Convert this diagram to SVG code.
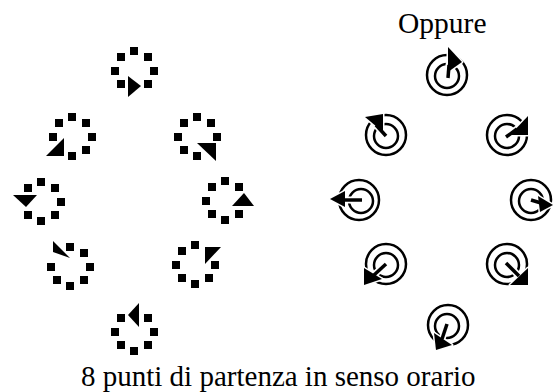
<svg xmlns="http://www.w3.org/2000/svg" xmlns:xlink="http://www.w3.org/1999/xlink" width="553" height="392" viewBox="0 0 553 392">
<style>
  text { font-family: "Liberation Serif", "Times New Roman", serif; fill: #000; }
  .sq { fill: #000; }
  .tri { fill: #000; }
  .ro, .ri { fill: none; stroke: #000; stroke-width: 2.5; }
  .halo { fill: none; stroke: #fff; stroke-width: 7; stroke-linecap: round; }
  .stem { fill: none; stroke: #000; stroke-width: 3.5; stroke-linecap: butt; }
  .head { fill: #000; stroke: #fff; stroke-width: 3; paint-order: stroke; stroke-linejoin: round; }
</style>
<defs>
  <rect id="sq" class="sq" width="8" height="8"/>
</defs>
<rect width="553" height="392" fill="#fff"/>

<g id="d1" transform="translate(134,71)">
  <use xlink:href="#sq" x="-4" y="-24"/><use xlink:href="#sq" x="10" y="-18"/><use xlink:href="#sq" x="16" y="-4"/><use xlink:href="#sq" x="10" y="9"/>
  <use xlink:href="#sq" x="-17" y="9"/><use xlink:href="#sq" x="-23" y="-4"/><use xlink:href="#sq" x="-17" y="-18"/>
  <polygon class="tri" points="-6,5 7,15 -6,26"/>
</g>
<g id="d2" transform="translate(72,137)">
  <use xlink:href="#sq" x="-4" y="-24"/><use xlink:href="#sq" x="10" y="-18"/><use xlink:href="#sq" x="16" y="-4"/><use xlink:href="#sq" x="10" y="9"/>
  <use xlink:href="#sq" x="-4" y="15"/><use xlink:href="#sq" x="-23" y="-4"/><use xlink:href="#sq" x="-17" y="-18"/>
  <polygon class="tri" points="-8,1 -8,19 -26,19"/>
</g>
<g id="d3" transform="translate(197,137)">
  <use xlink:href="#sq" x="-4" y="-24"/><use xlink:href="#sq" x="10" y="-18"/><use xlink:href="#sq" x="16" y="-4"/>
  <use xlink:href="#sq" x="-4" y="15"/><use xlink:href="#sq" x="-17" y="9"/><use xlink:href="#sq" x="-23" y="-4"/><use xlink:href="#sq" x="-17" y="-18"/>
  <polygon class="tri" points="0,6 19,6 19,24"/>
</g>
<g id="d4" transform="translate(41,202)">
  <use xlink:href="#sq" x="-4" y="-24"/><use xlink:href="#sq" x="10" y="-18"/><use xlink:href="#sq" x="16" y="-4"/><use xlink:href="#sq" x="10" y="9"/>
  <use xlink:href="#sq" x="-4" y="15"/><use xlink:href="#sq" x="-17" y="9"/><use xlink:href="#sq" x="-17" y="-18"/>
  <polygon class="tri" points="-28,-7 -4,-7 -15,5"/>
</g>
<g id="d5" transform="translate(225,201)">
  <use xlink:href="#sq" x="-4" y="-24"/><use xlink:href="#sq" x="10" y="-18"/><use xlink:href="#sq" x="10" y="9"/>
  <use xlink:href="#sq" x="-4" y="15"/><use xlink:href="#sq" x="-17" y="9"/><use xlink:href="#sq" x="-23" y="-4"/><use xlink:href="#sq" x="-17" y="-18"/>
  <polygon class="tri" points="7,5 29,5 19,-8"/>
</g>
<g id="d6" transform="translate(70,267)">
  <use xlink:href="#sq" x="-4" y="-24"/><use xlink:href="#sq" x="10" y="-18"/><use xlink:href="#sq" x="16" y="-4"/><use xlink:href="#sq" x="10" y="9"/>
  <use xlink:href="#sq" x="-4" y="15"/><use xlink:href="#sq" x="-17" y="9"/><use xlink:href="#sq" x="-23" y="-4"/>
  <polygon class="tri" points="-17,-26 -17,-15 0,-9"/>
</g>
<g id="d7" transform="translate(195,265)">
  <use xlink:href="#sq" x="-4" y="-24"/><use xlink:href="#sq" x="16" y="-4"/><use xlink:href="#sq" x="10" y="9"/>
  <use xlink:href="#sq" x="-4" y="15"/><use xlink:href="#sq" x="-17" y="9"/><use xlink:href="#sq" x="-23" y="-4"/><use xlink:href="#sq" x="-17" y="-18"/>
  <polygon class="tri" points="10,-18 26,-18 10,-1"/>
</g>
<g id="d8" transform="translate(134,332)">
  <use xlink:href="#sq" x="10" y="-18"/><use xlink:href="#sq" x="16" y="-4"/><use xlink:href="#sq" x="10" y="9"/>
  <use xlink:href="#sq" x="-4" y="15"/><use xlink:href="#sq" x="-17" y="9"/><use xlink:href="#sq" x="-23" y="-4"/><use xlink:href="#sq" x="-17" y="-18"/>
  <polygon class="tri" points="5,-29 -6,-17 5,-5"/>
</g>

<text id="oppure" x="398" y="33" font-size="29.5">Oppure</text>

<g id="r1" transform="translate(447,75)">
  <circle class="ro" r="20"/><circle class="ri" cy="1" r="12"/>
  <path class="halo" d="M1,3 L2,-10"/>
  <polygon class="head" points="1,-28 15,-13 1,-3"/>
  <path class="stem" d="M1,3 L2,-10"/>
</g>
<g id="r2" transform="translate(386,135)">
  <circle class="ro" r="20"/><circle class="ri" cy="1" r="12"/>
  <path class="halo" d="M0,1 L-10,-10"/>
  <polygon class="head" points="-21,-18 -3,-21 -3,-3"/>
  <path class="stem" d="M0,1 L-10,-10"/>
</g>
<g id="r3" transform="translate(507,135)">
  <circle class="ro" r="20"/><circle class="ri" cy="1" r="12"/>
  <path class="halo" d="M-1,2 L10,-6"/>
  <polygon class="head" points="21,-19 21,0 3,0"/>
  <path class="stem" d="M-1,2 L10,-6"/>
</g>
<g id="r4" transform="translate(359,200)">
  <circle class="ro" r="20"/><circle class="ri" cx="2" cy="1" r="12"/>
  <path class="halo" d="M-14,0 L3,0"/>
  <polygon class="head" points="-29,-1 -14,-9 -14,7"/>
  <path class="stem" d="M-14,0 L3,0"/>
</g>
<g id="r5" transform="translate(531,200)">
  <circle class="ro" r="20"/><circle class="ri" cy="1" r="12"/>
  <path class="halo" d="M0,0 L10,3"/>
  <polygon class="head" points="7,-4 22,5 9,12"/>
  <path class="stem" d="M0,0 L10,3"/>
</g>
<g id="r6" transform="translate(386,264)">
  <circle class="ro" r="20"/><circle class="ri" cy="1" r="12"/>
  <path class="halo" d="M0,0 L-12,11"/>
  <polygon class="head" points="-22,4 -22,21 -4,15"/>
  <path class="stem" d="M0,0 L-12,11"/>
</g>
<g id="r7" transform="translate(507,264)">
  <circle class="ro" r="20"/><circle class="ri" cy="1" r="12"/>
  <path class="halo" d="M-1,-1 L12,12"/>
  <polygon class="head" points="21,4 21,21 3,21"/>
  <path class="stem" d="M-1,-1 L12,12"/>
</g>
<g id="r8" transform="translate(448,325)">
  <circle class="ro" r="20"/><circle class="ri" cx="-1" cy="1" r="12"/>
  <path class="halo" d="M-1,-1 L-6,14"/>
  <polygon class="head" points="-12,25 -14,8 4,20"/>
  <path class="stem" d="M-1,-1 L-6,14"/>
</g>

<text id="caption" x="81" y="386" font-size="29">8 punti di partenza in senso orario</text>
</svg>
